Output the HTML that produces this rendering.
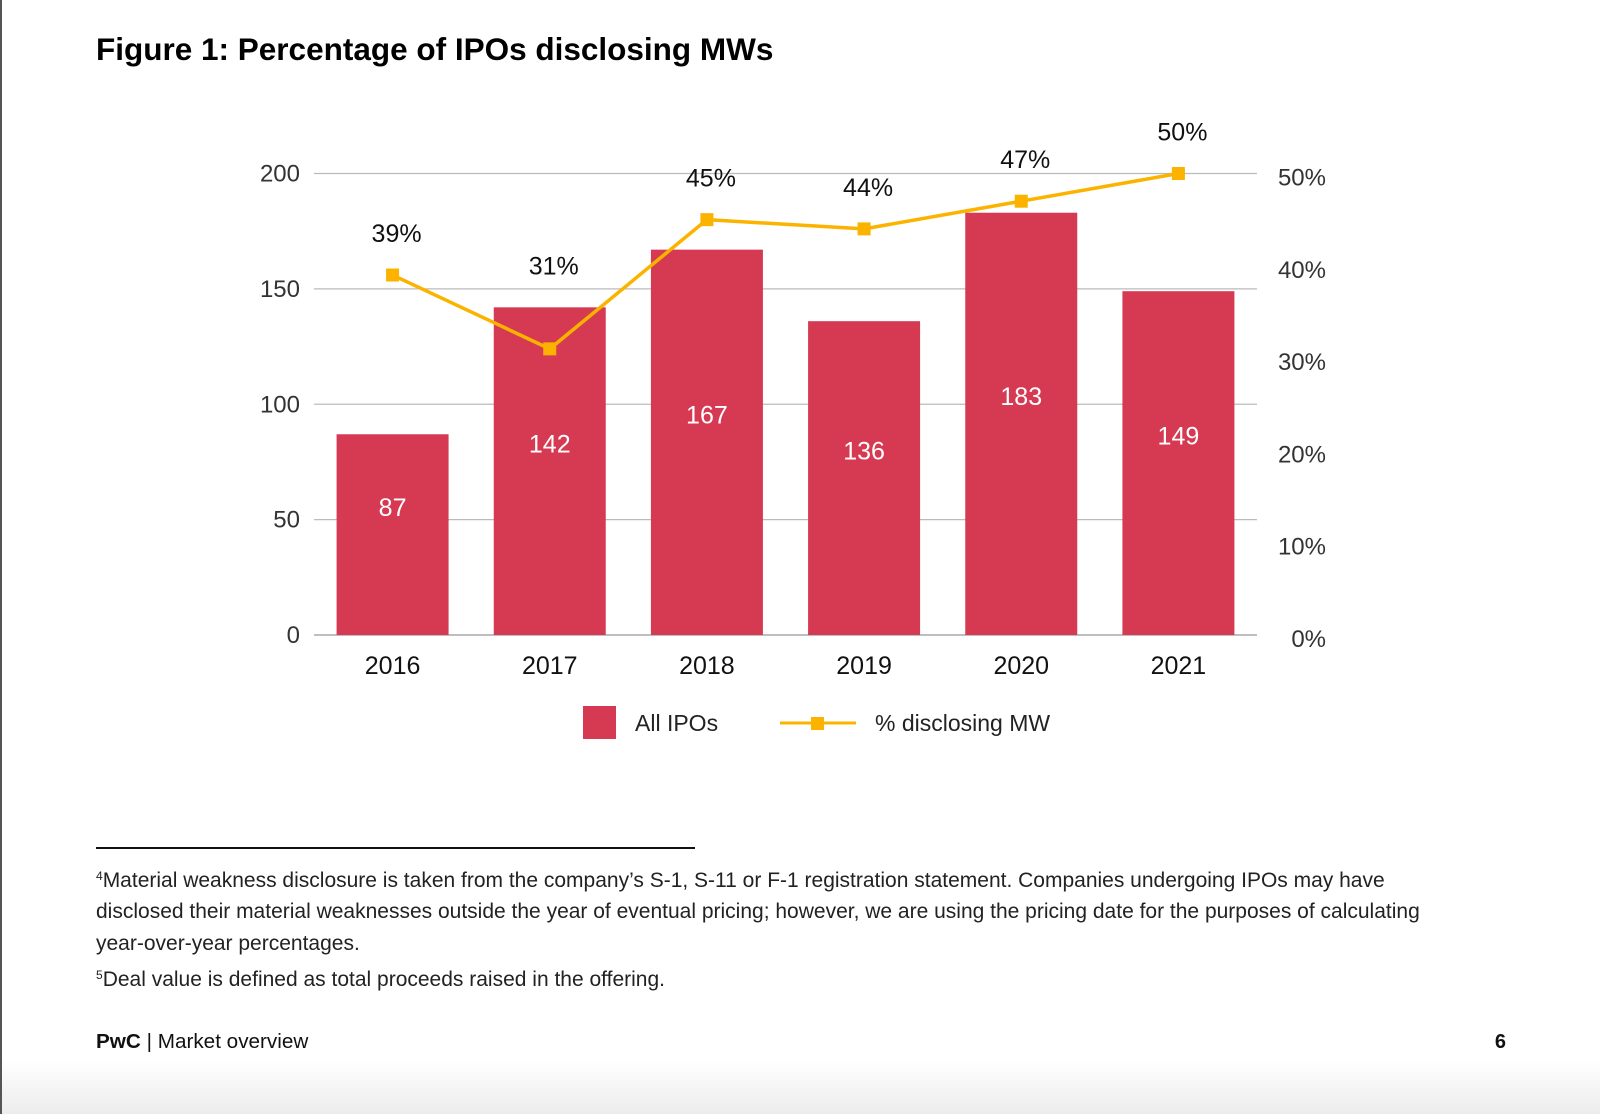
<!DOCTYPE html>
<html><head><meta charset="utf-8"><style>
html,body{margin:0;padding:0;background:#fff;}
body{width:1600px;height:1114px;overflow:hidden;position:relative;font-family:"Liberation Sans",sans-serif;}
</style></head><body>
<svg id="chart" width="1600" height="1114" viewBox="0 0 1600 1114" xmlns="http://www.w3.org/2000/svg" style="position:absolute;left:0;top:0;font-family:'Liberation Sans',sans-serif">
<defs><linearGradient id="bg" x1="0" y1="0" x2="0" y2="1"><stop offset="0" stop-color="#fff"/><stop offset="1" stop-color="#ececec"/></linearGradient></defs>
<rect x="0" y="1060" width="1600" height="54" fill="url(#bg)"/>
<rect x="0" y="0" width="2" height="1114" fill="#555"/>
<text x="96" y="60" font-size="31.5" font-weight="bold" fill="#000">Figure 1: Percentage of IPOs disclosing MWs</text>
<g id="grid"></g><g id="bars"></g><g id="line"></g><g id="labels"></g>
<g>
<rect x="583" y="706" width="33" height="33" fill="#d63a53"/>
<text x="635" y="731" font-size="23" fill="#222">All IPOs</text>
<line x1="780" y1="723" x2="856" y2="723" stroke="#fbb300" stroke-width="3"/>
<rect x="811" y="717" width="13" height="13" fill="#fbb300"/>
<text x="875" y="731" font-size="23" fill="#222">% disclosing MW</text>
</g>
<rect x="96" y="847" width="599" height="2" fill="#111"/>
<g font-size="21" fill="#222">
<text x="96" y="887"><tspan font-size="12" dy="-7">4</tspan><tspan dy="7">Material weakness disclosure is taken from the company’s S-1, S-11 or F-1 registration statement. Companies undergoing IPOs may have</tspan></text>
<text x="96" y="918">disclosed their material weaknesses outside the year of eventual pricing; however, we are using the pricing date for the purposes of calculating</text>
<text x="96" y="950">year-over-year percentages.</text>
<text x="96" y="986"><tspan font-size="12" dy="-7">5</tspan><tspan dy="7">Deal value is defined as total proceeds raised in the offering.</tspan></text>
</g>
<text x="96" y="1048" font-size="20.7" fill="#111"><tspan font-weight="bold">PwC</tspan> | Market overview</text>
<text x="1506" y="1048" font-size="20" font-weight="bold" fill="#111" text-anchor="end">6</text>
</svg>
<script>
const categories = ["2016","2017","2018","2019","2020","2021"];
const ipoCounts = [87,142,167,136,183,149];
const pctMW = [39,31,45,44,47,50];
const leftTicks = [0,50,100,150,200];
const rightTicks = [0,10,20,30,40,50];

const NS="http://www.w3.org/2000/svg";
const X0=314,X1=1257,Y0=635,Y1=173.5;
const band=(X1-X0)/categories.length;
const xC=i=>X0+band*(i+0.5);
const yL=v=>Y0-(v/200)*(Y0-Y1);
const yR=v=>Y0-(v/50)*(Y0-Y1);
function mk(tag,attrs,parent,txt){const e=document.createElementNS(NS,tag);for(const k in attrs)e.setAttribute(k,attrs[k]);if(txt!==undefined)e.textContent=txt;parent.appendChild(e);return e;}
const grid=document.getElementById('grid'),bars=document.getElementById('bars'),line=document.getElementById('line'),labels=document.getElementById('labels');
leftTicks.forEach(t=>{
  const l=mk('line',{x1:X0,x2:X1,y1:yL(t),y2:yL(t),stroke:t===0?'#999':'#bbb','stroke-width':1.3},grid);
  
  
  const tx=mk('text',{x:300,y:yL(t)+8,'font-size':24,fill:'#333','text-anchor':'end'},grid,String(t));
  
  
});
rightTicks.forEach(t=>{
  const tx=mk('text',{x:1326,y:yR(t)+12,'font-size':24,fill:'#333','text-anchor':'end'},grid,t+'%');
  
  
});
const bw=112;
categories.forEach((c,i)=>{
  const v=ipoCounts[i];
  const r=mk('rect',{x:xC(i)-bw/2,y:yL(v),width:bw,height:Y0-yL(v),fill:'#d63a53'},bars);
  
  
  const bl=mk('text',{x:xC(i),y:yL(v*0.5+12)+9,'font-size':25,fill:'#fff','text-anchor':'middle'},labels,String(v));
  
  
  const xl=mk('text',{x:xC(i),y:674,'font-size':25,fill:'#111','text-anchor':'middle'},labels,c);
  
  
});
const pts=pctMW.map((v,i)=>xC(i)+','+yR(v)).join(' ');
const pl=mk('polyline',{points:pts,fill:'none',stroke:'#fbb300','stroke-width':3.5,'stroke-linejoin':'round'},line);


pctMW.forEach((v,i)=>{
  const m=mk('rect',{x:xC(i)-6.5,y:yR(v)-6.5,width:13,height:13,fill:'#fbb300'},line);
  
  
  const top=Math.min(yR(v),yL(ipoCounts[i]));
  const t=mk('text',{x:xC(i)+4,y:top-33,'font-size':25,fill:'#111','text-anchor':'middle'},labels,v+'%');
  
  
});
</script>
</body></html>
